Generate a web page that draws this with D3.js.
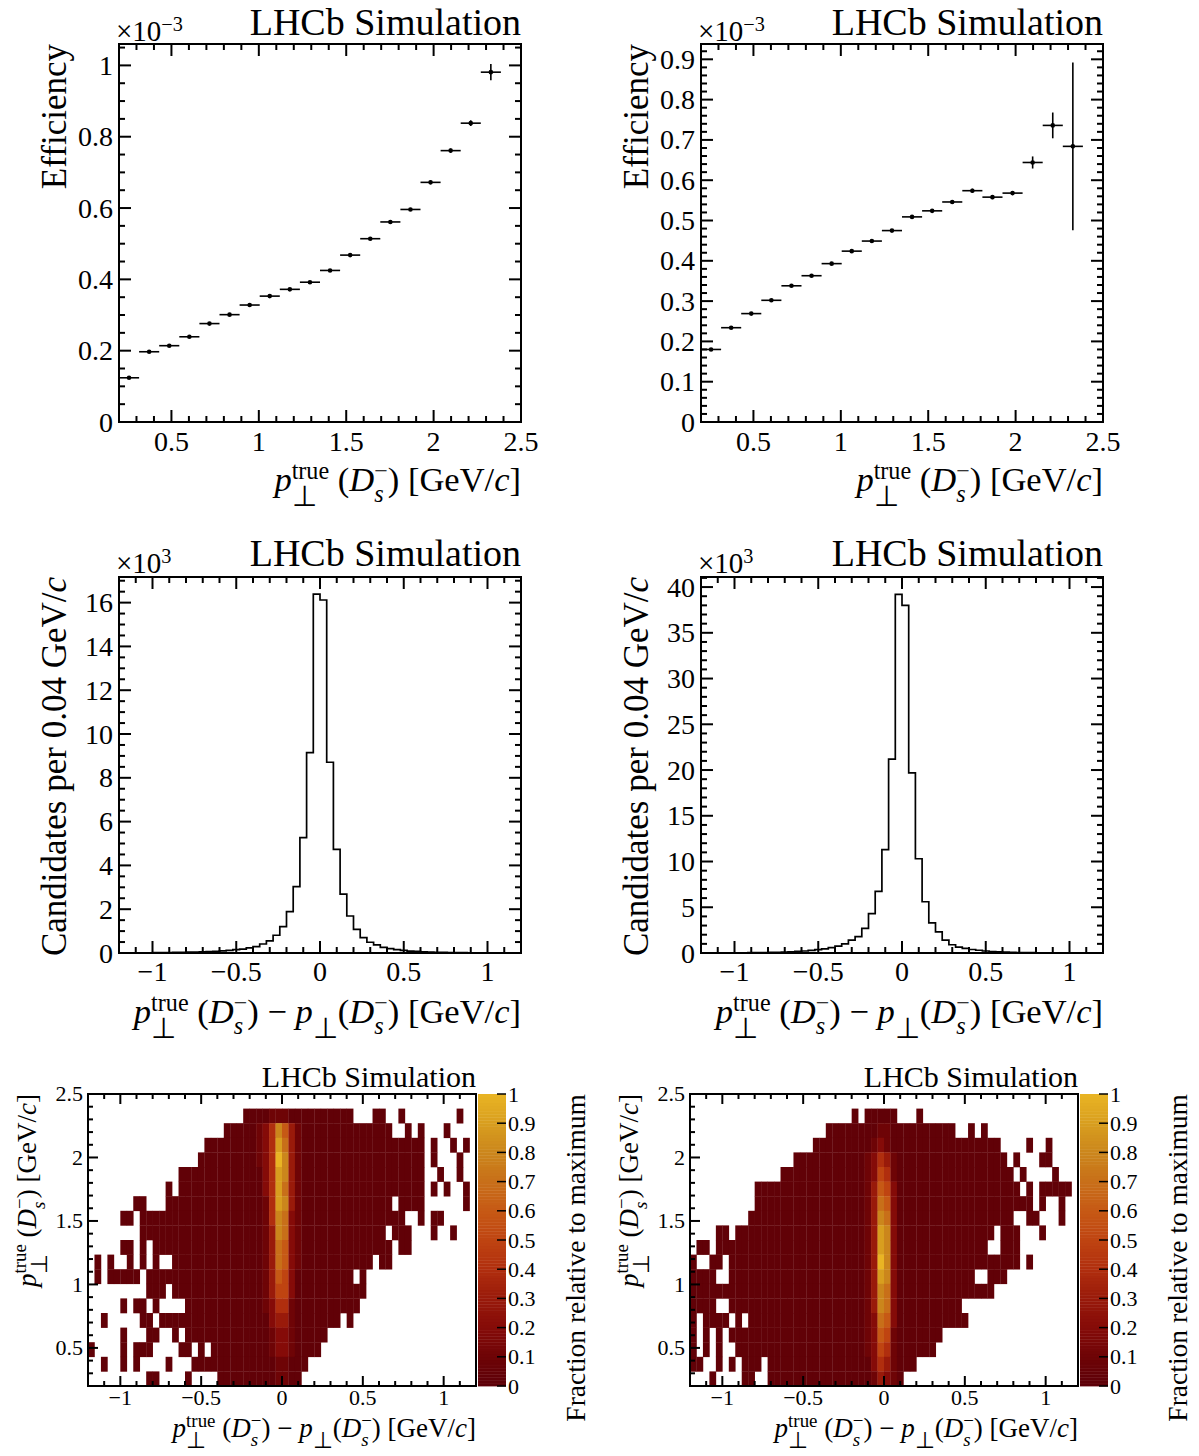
<!DOCTYPE html>
<html>
<head>
<meta charset="utf-8">
<script src="https://cdn.jsdelivr.net/npm/d3@7"></script>
<style>
  body { margin: 0; background: #fff; }
  text { font-family: "Liberation Serif", "Times New Roman", serif; fill: #000; white-space: pre; }
</style>
</head>
<body>
<div id="chart-area"></div>
<script>
// ---------------- data ----------------
// efficiency vs true pT, bins of 0.115 GeV/c from 0.2
var effCentres = [0.2575, 0.3725, 0.4875, 0.6025, 0.7175, 0.8325, 0.9475, 1.0625, 1.1775, 1.2925,
                  1.4075, 1.5225, 1.6375, 1.7525, 1.8675, 1.9825, 2.0975, 2.2125, 2.3275];
var effHalfWidth = 0.0575;
var effLeft = [0.124, 0.197, 0.214, 0.239, 0.276, 0.301, 0.328, 0.353, 0.372, 0.392,
               0.425, 0.468, 0.514, 0.561, 0.596, 0.672, 0.761, 0.838, 0.981];
var effLeftErr = [0.003, 0.003, 0.003, 0.003, 0.003, 0.003, 0.003, 0.003, 0.003, 0.003,
                  0.003, 0.004, 0.004, 0.004, 0.004, 0.005, 0.006, 0.008, 0.023];
var effRight = [0.180, 0.234, 0.269, 0.302, 0.338, 0.363, 0.393, 0.424, 0.449, 0.475,
                0.509, 0.524, 0.546, 0.574, 0.558, 0.568, 0.644, 0.736, 0.684];
var effRightErr = [0.003, 0.003, 0.003, 0.003, 0.003, 0.003, 0.003, 0.003, 0.003, 0.003,
                   0.003, 0.003, 0.003, 0.005, 0.005, 0.005, 0.015, 0.032, 0.208];

// resolution histograms, 60 bins of 0.04 from -1.2 (units of 10^3)
var resLow = -1.2, resBinWidth = 0.04;
var resLeft = [0.006, 0.007, 0.008, 0.010, 0.012, 0.014, 0.017, 0.020, 0.025, 0.030,
               0.038, 0.045, 0.055, 0.065, 0.080, 0.100, 0.120, 0.150, 0.180, 0.230,
               0.290, 0.410, 0.550, 0.810, 1.200, 1.890, 3.030, 5.270, 9.150, 16.39,
               16.12, 8.710, 4.730, 2.690, 1.690, 1.080, 0.700, 0.490, 0.370, 0.260,
               0.200, 0.150, 0.120, 0.090, 0.070, 0.055, 0.045, 0.035, 0.028, 0.022,
               0.018, 0.014, 0.011, 0.009, 0.007, 0.006, 0.005, 0.004, 0.003, 0.003];
var resRight = [0.006, 0.008, 0.010, 0.013, 0.016, 0.020, 0.025, 0.032, 0.040, 0.050,
                0.065, 0.080, 0.100, 0.130, 0.170, 0.220, 0.280, 0.360, 0.460, 0.580,
                0.760, 1.000, 1.400, 1.800, 2.700, 4.300, 6.740, 11.30, 21.20, 39.20,
                38.00, 19.70, 10.30, 5.600, 3.300, 2.300, 1.400, 0.900, 0.650, 0.500,
                0.380, 0.300, 0.220, 0.160, 0.120, 0.090, 0.070, 0.055, 0.042, 0.033,
                0.026, 0.020, 0.016, 0.012, 0.010, 0.008, 0.006, 0.005, 0.004, 0.003];

// 2D maps: 60 x-bins of 0.04 from -1.2, 20 y-bins of 0.115 from 0.2
// rows listed from the top bin (18) down to bin 0; '.' empty, '0' ~0.03, '1'..'9' = 0.1..0.9, 'a' = 1
var hmXLow = -1.2, hmXWidth = 0.04, hmYLow = 0.2, hmYWidth = 0.115;
var hmLeftRows = [
  ["..........", "..........", "....000011", "1000000000", "0...00..0.", ".......0.."],
  ["..........", "..........", ".000001248", "6310000000", "0000000..0", ".0...0...."],
  ["..........", "........00", "0000001249", "7310000000", "0000000000", "00.0..0.0."],
  ["..........", ".......000", "000000124a", "8310000000", "0000000000", "00.0...0.."],
  ["..........", "....000000", "0000000249", "8310000000", "0000000000", "00..0..0.."],
  ["..........", "..0.000000", "0000000249", "7310000000", "0000000000", "00.0.0..0."],
  [".......00.", "..00000000", "0000000149", "8310000000", "0000000.00", "00......0."],
  [".....00.00", "0000000000", "0000000148", "7210000000", "000000000.", ".0.00....."],
  ["........00", "0000000000", "0000000138", "7210000000", "000000.000", "...0..0..."],
  [".....00.0.", "0000000000", "0000000137", "6210000000", "0000000.00", ".........."],
  [".0.0..0.0.", "0..0000000", "0000000137", "6210000000", "0000.00...", ".........."],
  [".0.00000.0", "0000000000", "0000000136", "5200000000", "0.0.......", ".........."],
  [".........0", "00.0000000", "0000000135", "5200000000", "000.......", ".........."],
  [".....0.00.", "0....00000", "0000000124", "4100000000", "00........", ".........."],
  ["..0.....00", ".000000000", "0000000023", "310000000.", "0.........", ".........."],
  [".....0...0", "0..0.00000", "0000000012", "2100000...", "..........", ".........."],
  ["0....0.000", "....00.0.0", "0000000012", "210000....", "..........", ".........."],
  ["..0..0.0..", "..0...0000", "0000000001", "1000......", "..........", ".........."],
  [".........0", "0....0....", "0000000001", "100.......", "..........", ".........."]
];
var hmRightRows = [
  ["..........", "..........", ".....0.000", "00...0....", "..........", ".........."],
  ["..........", "..........", ".000000001", "1000000000", "0..0.0....", ".........."],
  ["..........", ".........0", "0000000012", "1000000000", "00000000..", "..0..0...."],
  ["..........", "......0000", "0000000124", "3100000000", "000000000.", "0...00...."],
  ["..........", "....000000", "0000000125", "4100000000", "0000000000", ".0....0..."],
  ["..........", "0000000000", "0000000136", "5200000000", "0000000000", "0.0.00000."],
  ["..........", "0000000000", "0000000137", "6200000000", "0000000000", "000.0..0.."],
  [".........0", "0000000000", "0000000138", "7200000000", "0000000000", "..00...0.."],
  ["....00.000", "0000000000", "0000000139", "8200000000", "0000000.00", "0...0....."],
  [".00.000000", "0000000000", "0000000139", "8200000000", "000000..00", "0........."],
  ["0..00.0000", "0000000000", "000000013a", "8200000000", "0000000000", "0.0......."],
  ["0000..0000", "0000000000", "0000000139", "8200000000", "0000..000.", ".........."],
  ["0000000000", "0000000000", "0000000138", "7200000000", "0000000...", ".........."],
  ["0000..0000", "0000000000", "0000000138", "7200000000", "00........", ".........."],
  ["0.0000.0.0", "0000000000", "0000000127", "6200000000", "000.......", ".........."],
  ["0.0.0.0000", "0000000000", "0000000126", "510000000.", "..........", ".........."],
  ["0.0.0..000", "0000000000", "0000000125", "41000000..", "..........", ".........."],
  ["00..0.0.00", "0.00000000", "0000000024", "31000.....", "..........", ".........."],
  ["...0....00", "..00000000", "0000000013", "210.......", "..........", ".........."]
];

var colStops = [0, 0.1, 0.2, 0.3, 0.4, 0.5, 0.6, 0.7, 0.8, 0.9, 1];
var colValues = ["#5c0008", "#6e0406", "#850b08", "#991a0a", "#b02e0e", "#bf4411", "#c65915",
                 "#c86f19", "#cb861c", "#d89e1f", "#e9b424"];

// ---------------- setup ----------------
var width = 1199, height = 1456;
var svg = d3.select("#chart-area").append("svg")
    .attr("width", width)
    .attr("height", height);

var color = d3.scaleLinear().domain(colStops).range(colValues).interpolate(d3.interpolateRgb);

function tickVals(lo, hi, step) {
    var out = [];
    for (var k = Math.ceil(lo / step - 1e-6); k <= Math.floor(hi / step + 1e-6); k++) {
        out.push(+(k * step).toFixed(6));
    }
    return out;
}
function isMult(v, step) {
    var r = v / step;
    return Math.abs(r - Math.round(r)) < 1e-6;
}
function fmt(v) {
    return d3.format("~g")(v).replace("-", "\u2212");
}

// ROOT-like frame: ticks on all sides, labels left and bottom
function axes(g, x, y, o) {
    var xl = x.range()[0], xr = x.range()[1], yb = y.range()[0], yt = y.range()[1];
    var xd = x.domain(), yd = y.domain();
    var tk = g.append("g").attr("stroke", "#000").attr("stroke-width", o.sw);

    tickVals(xd[0], xd[1], o.xMinor).forEach(function (v) {
        var len = isMult(v, o.xMajor) ? o.tick : o.tick / 2, px = x(v);
        tk.append("line").attr("x1", px).attr("x2", px).attr("y1", yb).attr("y2", yb - len);
        tk.append("line").attr("x1", px).attr("x2", px).attr("y1", yt).attr("y2", yt + len);
    });
    tickVals(yd[0], yd[1], o.yMinor).forEach(function (v) {
        var len = isMult(v, o.yMajor) ? o.tick : o.tick / 2, py = y(v);
        tk.append("line").attr("x1", xl).attr("x2", xl + len).attr("y1", py).attr("y2", py);
        if (o.right !== false) {
            tk.append("line").attr("x1", xr).attr("x2", xr - len).attr("y1", py).attr("y2", py);
        }
    });

    tickVals(xd[0], xd[1], o.xMajor).forEach(function (v) {
        g.append("text").attr("x", x(v)).attr("y", yb + o.xLabOff)
            .attr("text-anchor", "middle").attr("font-size", o.fs).text(fmt(v));
    });
    tickVals(yd[0], yd[1], o.yMajor).forEach(function (v) {
        g.append("text").attr("x", xl - o.yLabOff).attr("y", y(v) + o.fs * 0.34)
            .attr("text-anchor", "end").attr("font-size", o.fs).text(fmt(v));
    });

    g.append("rect").attr("x", xl).attr("y", yt).attr("width", xr - xl).attr("height", yb - yt)
        .attr("fill", "none").attr("stroke", "#000").attr("stroke-width", o.sw);
}

// one text element with italic parts and stacked super/subscripts (tspans)
function rich(parent, parts, size, ax, ay, anchor, rotate) {
    var outer = parent.append("g")
        .attr("transform", "translate(" + ax + "," + ay + ")" + (rotate ? " rotate(-90)" : ""));
    var txt = outer.append("text").attr("font-size", size);
    var cx = 0;
    function span(s, x, y, fs, it) {
        var t = txt.append("tspan").attr("x", x).attr("y", y).attr("font-size", fs)
            .style("font-style", it ? "italic" : "normal").text(s);
        return t.node().getComputedTextLength();
    }
    parts.forEach(function (p) {
        if (p.t !== undefined) {
            cx += span(p.t, cx, 0, size, p.i);
        } else {
            var w = 0;
            if (p.sup) w = Math.max(w, span(p.sup, cx, -0.36 * size, 0.7 * size, false));
            if (p.sub) w = Math.max(w, span(p.sub, cx, (p.subDy || 0.3) * size, (p.subSize || 0.7) * size, p.subI));
            cx += w;
        }
    });
    if (anchor === "end") txt.attr("transform", "translate(" + (-cx) + ",0)");
    return cx;
}

var perp = { sup: "true", sub: "\u22A5", subSize: 0.85, subDy: 0.42 };
var dsPart = [{ t: "(" }, { t: "D", i: 1 }, { sup: "\u2212", sub: "s", subI: 1, subDy: 0.32 }, { t: ")" }];
var gevPart = [{ t: " [GeV/" }, { t: "c", i: 1 }, { t: "]" }];
var labelPtTrue = [{ t: "p", i: 1 }, perp, { t: " " }].concat(dsPart, gevPart);
var labelRes = [{ t: "p", i: 1 }, perp, { t: " " }].concat(dsPart,
    [{ t: " \u2212 " }, { t: "p", i: 1 }, { sub: "\u22A5", subSize: 0.85, subDy: 0.42 }], dsPart, gevPart);

// ---------------- efficiency panels ----------------
function effPanel(ox, vals, errs, yMax, yMajor, yMinor) {
    var g = svg.append("g");
    var x = d3.scaleLinear().domain([0.2, 2.5]).range([ox, ox + 402]);
    var y = d3.scaleLinear().domain([0, yMax]).range([422, 44]);

    var pts = g.append("g").attr("stroke", "#000").attr("stroke-width", 1.6);
    vals.forEach(function (v, i) {
        var c = effCentres[i];
        pts.append("line").attr("x1", x(c - effHalfWidth)).attr("x2", x(c + effHalfWidth))
            .attr("y1", y(v)).attr("y2", y(v));
        pts.append("line").attr("x1", x(c)).attr("x2", x(c))
            .attr("y1", y(v - errs[i])).attr("y2", y(v + errs[i]));
    });
    g.selectAll("circle").data(vals).enter().append("circle")
        .attr("cx", function (d, i) { return x(effCentres[i]); })
        .attr("cy", function (d) { return y(d); })
        .attr("r", 2.3).attr("fill", "#000");

    axes(g, x, y, { xMajor: 0.5, xMinor: 0.1, yMajor: yMajor, yMinor: yMinor,
                    tick: 12, sw: 2, fs: 28, xLabOff: 29, yLabOff: 6 });

    g.append("text").attr("x", ox + 402).attr("y", 35).attr("text-anchor", "end")
        .attr("font-size", 38).text("LHCb Simulation");
    rich(g, [{ t: "\u00D710" }, { sup: "\u22123" }], 29, ox - 3, 41, "start");
    rich(g, [{ t: "Efficiency" }], 35, ox - 53, 44, "end", true);
    rich(g, labelPtTrue, 34.5, ox + 402, 491, "end");
}

effPanel(119, effLeft, effLeftErr, 1.06, 0.2, 0.05);
effPanel(701, effRight, effRightErr, 0.938, 0.1, 0.02);

// ---------------- resolution histograms ----------------
function histPanel(ox, vals, yMax, yMajor, yMinor) {
    var g = svg.append("g");
    var x = d3.scaleLinear().domain([-1.2, 1.2]).range([ox, ox + 402]);
    var y = d3.scaleLinear().domain([0, yMax]).range([953, 577]);

    var pts = [];
    vals.forEach(function (v, i) {
        var lo = resLow + i * resBinWidth;
        pts.push([lo, v], [lo + resBinWidth, v]);
    });
    var line = d3.line().x(function (d) { return x(d[0]); }).y(function (d) { return y(d[1]); });
    g.append("path").attr("d", line(pts)).attr("fill", "none")
        .attr("stroke", "#000").attr("stroke-width", 1.7);

    axes(g, x, y, { xMajor: 0.5, xMinor: 0.1, yMajor: yMajor, yMinor: yMinor,
                    tick: 12, sw: 2, fs: 28, xLabOff: 28, yLabOff: 6 });

    g.append("text").attr("x", ox + 402).attr("y", 566).attr("text-anchor", "end")
        .attr("font-size", 38).text("LHCb Simulation");
    rich(g, [{ t: "\u00D710" }, { sup: "3" }], 29, ox - 3, 573, "start");
    rich(g, [{ t: "Candidates per 0.04 GeV/" }, { t: "c", i: 1 }], 35, ox - 53, 577, "end", true);
    rich(g, labelRes, 34.5, ox + 402, 1023, "end");
}

histPanel(119, resLeft, 17.17, 2, 0.5);
histPanel(701, resRight, 41.1, 5, 1);

// ---------------- 2D maps ----------------
function level(ch) {
    if (ch === ".") return null;
    if (ch === "0") return 0.03;
    if (ch === "a") return 1;
    return +ch / 10;
}

function mapPanel(ox, rows) {
    var g = svg.append("g");
    var x = d3.scaleLinear().domain([-1.2, 1.2]).range([ox, ox + 388]);
    var y = d3.scaleLinear().domain([0.2, 2.5]).range([1386, 1094]);

    var cells = [];
    rows.forEach(function (parts, j) {
        var row = parts.join("");
        var bin = rows.length - 1 - j;
        for (var c = 0; c < row.length; c++) {
            var v = level(row[c]);
            if (v !== null) cells.push({ c: c, b: bin, v: v });
        }
    });
    g.append("g").selectAll("rect").data(cells).enter().append("rect")
        .attr("x", function (d) { return x(hmXLow + d.c * hmXWidth); })
        .attr("y", function (d) { return y(hmYLow + (d.b + 1) * hmYWidth); })
        .attr("width", function (d) { return x(hmXLow + (d.c + 1) * hmXWidth) - x(hmXLow + d.c * hmXWidth) + 0.3; })
        .attr("height", function (d) { return y(hmYLow + d.b * hmYWidth) - y(hmYLow + (d.b + 1) * hmYWidth) + 0.3; })
        .attr("fill", function (d) { return color(d.v); });

    axes(g, x, y, { xMajor: 0.5, xMinor: 0.1, yMajor: 0.5, yMinor: 0.1,
                    tick: 10, sw: 2, fs: 22, xLabOff: 19, yLabOff: 5, right: false });

    // colour bar
    var cbx = ox + 390, cbw = 28;
    var z = d3.scaleLinear().domain([0, 1]).range([1386, 1094]);
    var steps = d3.range(0, 1, 0.01);
    g.append("g").selectAll("rect").data(steps).enter().append("rect")
        .attr("x", cbx).attr("width", cbw)
        .attr("y", function (d) { return z(d + 0.01); })
        .attr("height", function (d) { return z(d) - z(d + 0.01) + 0.4; })
        .attr("fill", function (d) { return color(d + 0.005); });
    var zt = g.append("g").attr("stroke", "#000").attr("stroke-width", 1.5);
    tickVals(0, 1, 0.1).forEach(function (v) {
        zt.append("line").attr("x1", cbx + cbw).attr("x2", cbx + cbw - 9)
            .attr("y1", z(v)).attr("y2", z(v));
        g.append("text").attr("x", cbx + cbw + 2).attr("y", z(v) + 7.5)
            .attr("font-size", 22).text(fmt(v));
    });

    g.append("text").attr("x", ox + 388).attr("y", 1087).attr("text-anchor", "end")
        .attr("font-size", 30).text("LHCb Simulation");
    rich(g, labelPtTrue, 27, ox - 52, 1094, "end", true);
    rich(g, labelRes, 27, ox + 388, 1437, "end");
    rich(g, [{ t: "Fraction relative to maximum" }], 27.5, cbx + cbw + 79, 1094, "end", true);
}

mapPanel(88, hmLeftRows);
mapPanel(690, hmRightRows);
</script>
</body>
</html>
